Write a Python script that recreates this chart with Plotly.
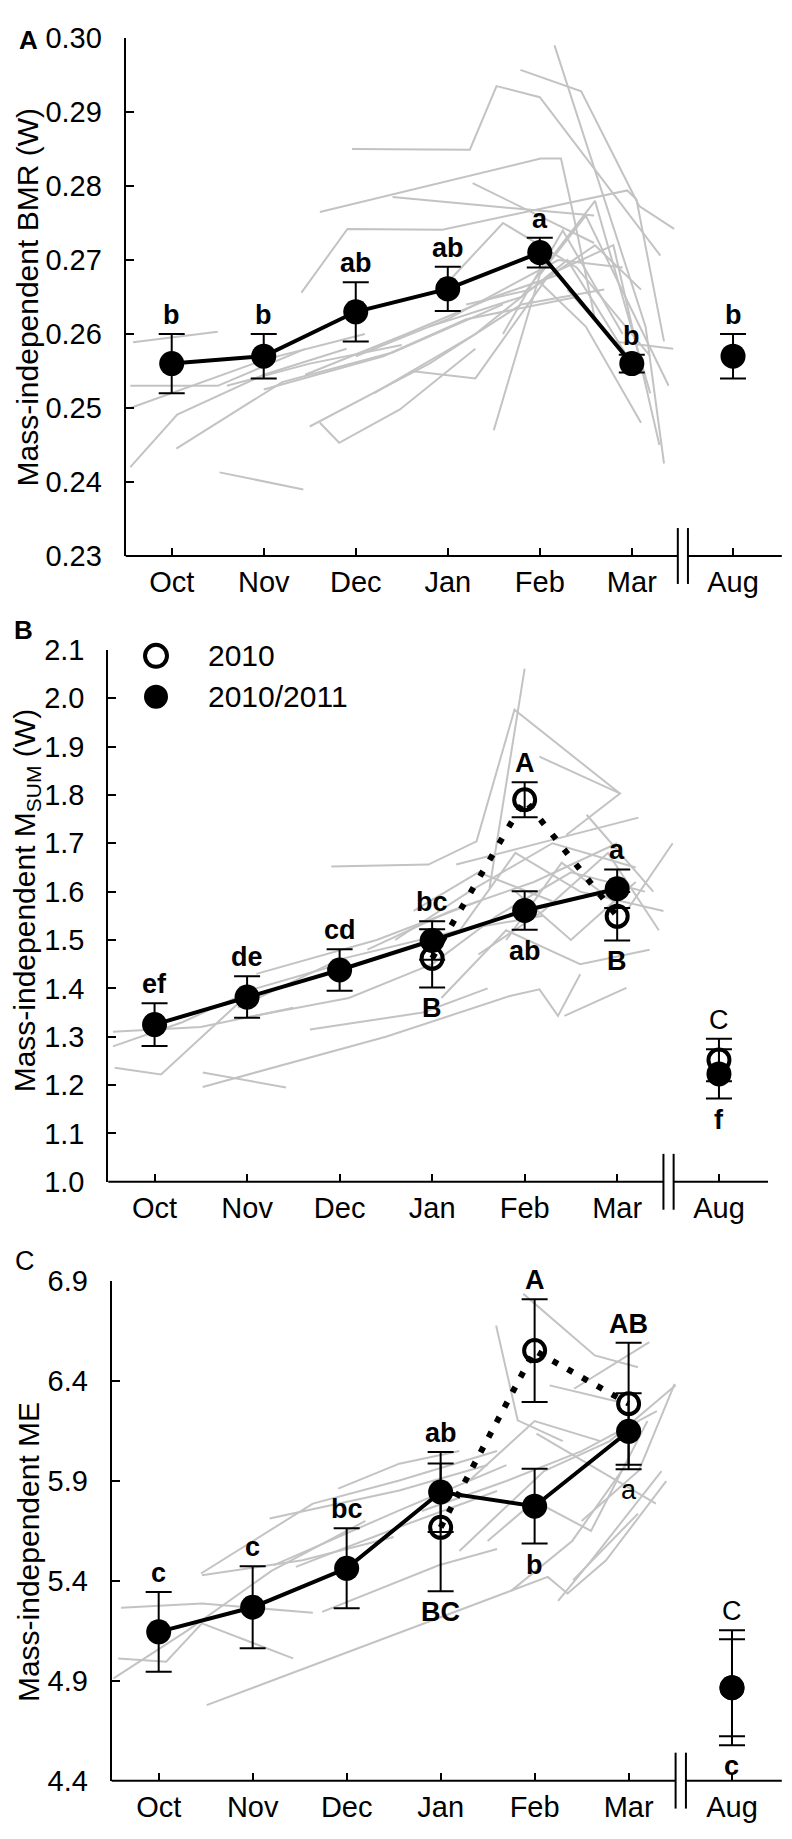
import plotly.graph_objects as go

W, H = 792, 1839
FONT = "Liberation Sans, Arial, sans-serif"

# ---------------- data ----------------
months = ['Oct', 'Nov', 'Dec', 'Jan', 'Feb', 'Mar', 'Aug']
# axis position of each month (Aug set apart after the axis break)
month_pos = [0, 1, 2, 3, 4, 5, 6.1]

# Panel A: mass-independent BMR (W), 2010/2011
bmr_mean = [0.2560, 0.2570, 0.2630, 0.2661, 0.2710, 0.2560, 0.2570]
bmr_err = [0.0040, 0.0030, 0.0040, 0.0030, 0.0020, 0.0012, 0.0030]
bmr_letters = ['b', 'b', 'ab', 'ab', 'a', 'b', 'b']
bmr_side = ['above'] * 7

# Panel B: mass-independent Msum (W)
msum_1011_mean = [1.325, 1.382, 1.438, 1.499, 1.561, 1.606, 1.223]
msum_1011_err = [0.044, 0.043, 0.043, 0.040, 0.040, 0.040, 0.051]
msum_1011_letters = ['ef', 'de', 'cd', 'bc', 'ab', 'a', 'f']
msum_1011_side = ['above', 'above', 'above', 'above', 'below', 'above', 'below']
msum_2010_months = ['Jan', 'Feb', 'Mar', 'Aug']
msum_2010_mean = [1.462, 1.790, 1.549, 1.252]
msum_2010_err = [0.060, 0.036, 0.050, 0.044]
msum_2010_letters = ['B', 'A', 'B', 'C']
msum_2010_side = ['below', 'above', 'below', 'above']

# Panel C: mass-independent ME
me_1011_mean = [5.145, 5.268, 5.463, 5.845, 5.774, 6.149, 4.865]
me_1011_err = [0.200, 0.205, 0.200, 0.200, 0.187, 0.190, 0.243]
me_1011_letters = ['c', 'c', 'bc', 'ab', 'b', 'a', 'c']
me_1011_side = ['above', 'above', 'above', 'above', 'below', 'below', 'below']
me_2010_months = ['Jan', 'Feb', 'Mar', 'Aug']
me_2010_mean = [5.668, 6.553, 6.287, 4.865]
me_2010_err = [0.320, 0.257, 0.305, 0.288]
me_2010_letters = ['BC', 'A', 'AB', 'C']
me_2010_side = ['below', 'above', 'above', 'above']

# individual birds (x = month index incl. fraction of month, y = value)
bmr_birds = [
    ([-0.42, 0.50], [0.2589, 0.2603]),
    ([-0.45, 0.50, 1.45], [0.2530, 0.2530, 0.2580]),
    ([-0.45, 0.06, 1.0, 1.9], [0.2420, 0.2491, 0.2545, 0.2580]),
    ([0.52, 1.43], [0.2413, 0.2390]),
    ([1.61, 1.82, 2.48, 3.3], [0.2480, 0.2453, 0.2498, 0.2580]),
    ([1.61, 2.48, 4.01, 4.23, 4.35, 4.6], [0.2765, 0.2791, 0.2837, 0.2837, 0.2770, 0.2620]),
    ([1.41, 1.91, 2.94, 4.95, 5.05, 5.35], [0.2656, 0.2742, 0.2741, 0.2794, 0.2782, 0.2590]),
    ([1.96, 3.24, 3.53, 4.0, 5.31], [0.2850, 0.2849, 0.2935, 0.2920, 0.2706]),
    ([3.79, 4.45, 5.08, 5.46], [0.2957, 0.2928, 0.2773, 0.2742]),
    ([4.16, 5.15, 5.35], [0.2990, 0.2610, 0.2425]),
    ([3.27, 4.59], [0.2804, 0.2723]),
    ([2.40, 4.59], [0.2785, 0.2760]),
    ([-0.45, 1.0, 2.1], [0.2500, 0.2565, 0.2600]),
    ([0.05, 1.2, 2.4, 3.6], [0.2445, 0.2535, 0.2575, 0.2640]),
    ([0.6, 1.5, 2.5], [0.2530, 0.2560, 0.2585]),
    ([1.45, 2.55, 3.5, 4.2], [0.2545, 0.2600, 0.2650, 0.2680]),
    ([1.0, 2.3, 3.2, 4.4], [0.2525, 0.2570, 0.2620, 0.2650]),
    ([1.5, 2.8, 3.8, 4.7], [0.2475, 0.2560, 0.2640, 0.2660]),
    ([2.2, 3.3, 4.3, 5.0], [0.2520, 0.2600, 0.2700, 0.2560]),
    ([2.6, 3.3, 4.1, 4.8, 5.3], [0.2550, 0.2540, 0.2680, 0.2720, 0.2450]),
    ([2.8, 3.8, 4.6, 5.2], [0.2610, 0.2650, 0.2780, 0.2520]),
    ([3.0, 3.6, 4.4, 5.2], [0.2670, 0.2750, 0.2690, 0.2570]),
    ([3.5, 4.0, 4.5, 5.4], [0.2470, 0.2680, 0.2760, 0.2530]),
    ([3.6, 4.25, 4.9], [0.2600, 0.2740, 0.2600]),
    ([4.0, 4.5, 5.1], [0.2670, 0.2610, 0.2480]),
    ([3.2, 3.9, 4.6, 5.1], [0.2640, 0.2660, 0.2720, 0.2660]),
    ([4.3, 4.8, 5.45], [0.2660, 0.2590, 0.2580]),
    ([2.0, 3.0, 4.2, 4.9], [0.2570, 0.2620, 0.2700, 0.2690]),
]

msum_birds = [
    ([-0.43, 0.07, 1.03], [1.236, 1.222, 1.391]),
    ([0.52, 1.42], [1.226, 1.195]),
    ([0.52, 2.5, 3.84, 4.16, 4.36, 4.60], [1.196, 1.300, 1.384, 1.398, 1.343, 1.429]),
    ([4.43, 5.10], [1.343, 1.401]),
    ([-0.45, 0.5, 1.5], [1.310, 1.320, 1.360]),
    ([-0.45, 0.3, 1.1, 2.0], [1.280, 1.330, 1.400, 1.450]),
    ([1.68, 2.9, 3.6], [1.315, 1.350, 1.400]),
    ([1.0, 2.1, 3.0], [1.340, 1.380, 1.450]),
    ([0.9, 2.0, 3.3, 4.2], [1.360, 1.460, 1.520, 1.550]),
    ([1.1, 2.4, 3.5], [1.430, 1.500, 1.580]),
    ([1.91, 2.96, 3.48, 3.89, 5.03], [1.652, 1.656, 1.704, 1.976, 1.803]),
    ([3.62, 4.0], [1.607, 2.061]),
    ([4.16, 5.03, 4.45], [1.879, 1.803, 1.717]),
    ([3.26, 5.23], [1.656, 1.753]),
    ([4.67, 5.39], [1.759, 1.600]),
    ([2.3, 3.2, 4.1, 5.0], [1.480, 1.560, 1.620, 1.700]),
    ([2.6, 3.4, 4.3, 5.2], [1.500, 1.600, 1.700, 1.650]),
    ([3.0, 3.7, 4.5, 5.3], [1.450, 1.550, 1.640, 1.600]),
    ([3.3, 3.9, 4.6, 5.5], [1.520, 1.680, 1.600, 1.560]),
    ([3.5, 4.2, 4.9, 5.45], [1.470, 1.560, 1.680, 1.520]),
    ([3.8, 4.4, 5.1, 5.6], [1.500, 1.660, 1.560, 1.700]),
    ([2.8, 3.5, 4.3], [1.560, 1.640, 1.580]),
    ([3.1, 3.8, 4.6, 5.35], [1.380, 1.520, 1.450, 1.480]),
    ([3.9, 4.5, 5.2], [1.600, 1.500, 1.620]),
]

me_birds = [
    ([-0.40, 0.46, 1.64], [5.265, 5.287, 5.240]),
    ([-0.43, 0.08, 0.46, 1.43], [5.012, 4.995, 5.187, 5.012]),
    ([-0.48, 0.3, 1.2, 2.2], [4.912, 5.150, 5.450, 5.700]),
    ([0.51, 4.14, 4.35, 4.76, 5.4], [4.778, 5.420, 5.337, 5.503, 5.900]),
    ([0.45, 1.64, 2.56, 3.6], [5.437, 5.787, 5.903, 6.050]),
    ([1.18, 2.56, 3.5], [5.712, 5.853, 5.980]),
    ([1.91, 2.56, 3.2], [5.862, 5.987, 6.050]),
    ([1.22, 2.56, 3.7], [5.478, 5.753, 5.980]),
    ([1.46, 2.56, 3.6], [5.470, 5.670, 5.850]),
    ([1.74, 2.98, 3.6], [5.245, 5.478, 5.560]),
    ([0.46, 1.53, 2.5], [5.428, 5.503, 5.620]),
    ([3.88, 4.64, 5.10], [6.837, 6.529, 6.470]),
    ([3.59, 3.82, 4.3], [6.679, 6.204, 6.100]),
    ([4.16, 4.90], [6.379, 6.296]),
    ([4.42, 5.22], [6.362, 6.595]),
    ([4.5, 5.11, 5.49], [5.700, 5.953, 6.387]),
    ([4.41, 5.10], [5.404, 5.737]),
    ([4.02, 5.29], [6.137, 5.787]),
    ([3.2, 4.1, 4.8, 5.5], [5.550, 5.950, 6.100, 6.380]),
    ([2.8, 3.7, 4.5, 5.3], [5.750, 5.900, 6.050, 6.250]),
    ([3.5, 4.0, 4.6, 5.2], [5.600, 5.800, 5.650, 6.200]),
    ([3.3, 4.0, 4.7], [5.900, 6.200, 6.100]),
    ([3.75, 4.4, 5.0], [5.350, 5.600, 6.000]),
    ([4.25, 4.6, 5.35], [5.300, 5.500, 5.950]),
]

# ---------------- layout geometry ----------------
# Positions below are given in target-picture pixels; the page shows the figure
# shifted by (8, 21) px and squeezed vertically by ~0.9845, so convert them.
SY, OX, OY = 0.9845, 8.0, 21.3


def fx(px):        # target x px -> figure x px
    return px - OX


def fy(py):        # target y px -> figure y px
    return py / SY - OY


def px_x(px):
    return fx(px) / W


def px_y(py):
    return 1 - fy(py) / H


X_RANGE = [-0.5, 6.63]
panels = {
    'A': dict(xpx=(125.7, 781.8), ypx=(35, 554), yr=(0.23, 0.30)),
    'B': dict(xpx=(108.3, 768.0), ypx=(648, 1181), yr=(1.0, 2.1)),
    'C': dict(xpx=(111.7, 781.8), ypx=(1280.7, 1781), yr=(4.4, 6.9)),
}


def xdata_to_px(p, xv):
    x0, x1 = panels[p]['xpx']
    return x0 + (xv - X_RANGE[0]) / (X_RANGE[1] - X_RANGE[0]) * (x1 - x0)


fig = go.Figure()
GREY = '#c3c3c3'


def bird_trace(birds, xa, ya):
    xs, ys = [], []
    for bx, by in birds:
        xs += list(bx) + [None]
        ys += list(by) + [None]
    return go.Scatter(x=xs, y=ys, mode='lines', line=dict(color=GREY, width=2),
                      xaxis=xa, yaxis=ya, showlegend=False, hoverinfo='skip')


def pos_of(mlist):
    return [month_pos[months.index(m)] for m in mlist]


def add_series(xa, ya, mean, err, filled, xs, line_n, dash=None, name=None):
    if line_n:
        line = dict(color='black', width=6, dash=dash) if dash else dict(color='black', width=4)
        fig.add_trace(go.Scatter(x=xs[:line_n], y=mean[:line_n], mode='lines', line=line,
                                 xaxis=xa, yaxis=ya, showlegend=False, hoverinfo='skip'))
    if filled:
        marker = dict(symbol='circle', size=25, color='black')
    else:
        marker = dict(symbol='circle-open', size=21, color='black',
                      line=dict(width=4, color='black'))
    fig.add_trace(go.Scatter(
        x=xs, y=mean, mode='markers', marker=marker, name=name,
        error_y=dict(type='data', array=err, visible=True, color='black',
                     thickness=2, width=13),
        xaxis=xa, yaxis=ya, showlegend=False))


# Panel A
fig.add_trace(bird_trace(bmr_birds, 'x', 'y'))
add_series('x', 'y', bmr_mean, bmr_err, True, month_pos, 6, name='2010/2011')

# Panel B
fig.add_trace(bird_trace(msum_birds, 'x2', 'y2'))
add_series('x2', 'y2', msum_2010_mean, msum_2010_err, False, pos_of(msum_2010_months), 3,
           dash='6px,13px', name='2010')
add_series('x2', 'y2', msum_1011_mean, msum_1011_err, True, month_pos, 6, name='2010/2011')

# Panel C
fig.add_trace(bird_trace(me_birds, 'x3', 'y3'))
add_series('x3', 'y3', me_2010_mean, me_2010_err, False, pos_of(me_2010_months), 3,
           dash='6px,11px', name='2010')
add_series('x3', 'y3', me_1011_mean, me_1011_err, True, month_pos, 6, name='2010/2011')

# ---------------- axes ----------------
TICKFONT = dict(family=FONT, size=29, color='black')


def xaxis_dict(p, anchor):
    x0, x1 = panels[p]['xpx']
    return dict(domain=[px_x(x0), px_x(x1)], range=X_RANGE, anchor=anchor,
                tickmode='array', tickvals=month_pos, ticktext=months,
                ticks='inside', ticklen=8, tickwidth=2, tickcolor='black',
                showline=False, showgrid=False, zeroline=False,
                tickfont=TICKFONT, ticklabelstandoff=6, fixedrange=True)


def yaxis_dict(p, anchor, tickvals, fmt):
    y0, y1 = panels[p]['ypx']
    return dict(domain=[px_y(y1), px_y(y0)], range=list(panels[p]['yr']), anchor=anchor,
                tickmode='array', tickvals=tickvals, ticktext=[fmt.format(v) for v in tickvals],
                ticks='inside', ticklen=8, tickwidth=2, tickcolor='black',
                showline=True, linewidth=2, linecolor='black',
                showgrid=False, zeroline=False, tickfont=TICKFONT,
                ticklabelstandoff=16, fixedrange=True)


a_ticks = [round(0.23 + 0.01 * i, 2) for i in range(8)]
b_ticks = [round(1.0 + 0.1 * i, 1) for i in range(12)]
c_ticks = [round(4.4 + 0.5 * i, 1) for i in range(6)]

fig.update_layout(
    width=W, height=H, margin=dict(l=0, r=0, t=0, b=0),
    paper_bgcolor='white', plot_bgcolor='white', showlegend=False,
    font=dict(family=FONT, color='black'),
    xaxis=xaxis_dict('A', 'y'), yaxis=yaxis_dict('A', 'x', a_ticks, '{:.2f}'),
    xaxis2=xaxis_dict('B', 'y2'), yaxis2=yaxis_dict('B', 'x2', b_ticks, '{:.1f}'),
    xaxis3=xaxis_dict('C', 'y3'), yaxis3=yaxis_dict('C', 'x3', c_ticks, '{:.1f}'),
)

# ---------------- broken x axis lines ----------------
shapes = []
for p in ['A', 'B', 'C']:
    ybot = panels[p]['ypx'][1]
    xl = xdata_to_px(p, X_RANGE[0])
    xr = xdata_to_px(p, X_RANGE[1])
    b1 = xdata_to_px(p, 5.5)
    b2 = xdata_to_px(p, 5.61)
    for a, b in [(xl, b1), (b2, xr)]:
        shapes.append(dict(type='line', xref='paper', yref='paper',
                           x0=px_x(a), x1=px_x(b), y0=px_y(ybot), y1=px_y(ybot),
                           line=dict(color='black', width=2)))
    for bx in (b1, b2):
        shapes.append(dict(type='line', xref='paper', yref='paper',
                           x0=px_x(bx), x1=px_x(bx), y0=px_y(ybot - 28), y1=px_y(ybot + 28),
                           line=dict(color='black', width=2)))

# legend symbols (panel B)
shapes.append(dict(type='circle', xref='paper', yref='paper',
                   x0=px_x(145), x1=px_x(167), y0=px_y(665), y1=px_y(643),
                   line=dict(color='black', width=4), fillcolor='rgba(0,0,0,0)'))
shapes.append(dict(type='circle', xref='paper', yref='paper',
                   x0=px_x(144), x1=px_x(168), y0=px_y(707), y1=px_y(683),
                   line=dict(color='black', width=0), fillcolor='black'))
fig.update_layout(shapes=shapes)

# ---------------- annotations ----------------
ann = []
LFONT = dict(family=FONT, size=27, color='black')


def add_letters(xa, ya, xs, letters, sides, others, bold_flags=None):
    for i, (xv, t, s) in enumerate(zip(xs, letters, sides)):
        tops, bots = [], []
        for (oxs, om, oe) in others:
            for j, ox in enumerate(oxs):
                if ox == xv:
                    tops.append(om[j] + oe[j])
                    bots.append(om[j] - oe[j])
        bold = True if bold_flags is None else bold_flags[i]
        txt = '<b>%s</b>' % t if bold else t
        if s == 'above':
            ann.append(dict(x=xv, y=max(tops), xref=xa, yref=ya, text=txt, showarrow=False,
                            xanchor='center', yanchor='bottom', yshift=2, font=LFONT))
        else:
            ann.append(dict(x=xv, y=min(bots), xref=xa, yref=ya, text=txt, showarrow=False,
                            xanchor='center', yanchor='top', yshift=-4, font=LFONT))


a_series = [(month_pos, bmr_mean, bmr_err)]
add_letters('x', 'y', month_pos, bmr_letters, bmr_side, a_series)

b_series = [(month_pos, msum_1011_mean, msum_1011_err),
            (pos_of(msum_2010_months), msum_2010_mean, msum_2010_err)]
add_letters('x2', 'y2', month_pos, msum_1011_letters, msum_1011_side, b_series)
add_letters('x2', 'y2', pos_of(msum_2010_months), msum_2010_letters, msum_2010_side,
            b_series, [True, True, True, False])

c_series = [(month_pos, me_1011_mean, me_1011_err),
            (pos_of(me_2010_months), me_2010_mean, me_2010_err)]
add_letters('x3', 'y3', month_pos, me_1011_letters, me_1011_side,
            c_series, [True, True, True, True, True, False, True])
add_letters('x3', 'y3', pos_of(me_2010_months), me_2010_letters, me_2010_side,
            c_series, [True, True, True, False])

# axis titles (kept fully inside the page)
TFONT = dict(family=FONT, size=30, color='black')
for txt, cx, cy in [('Mass-independent BMR (W)', 28, 295),
                    ('Mass-independent M<sub>SUM</sub> (W)', 26, 900),
                    ('Mass-independent ME', 28, 1552)]:
    ann.append(dict(x=px_x(cx), y=px_y(cy), xref='paper', yref='paper', text=txt,
                    textangle=-90, showarrow=False, xanchor='center', yanchor='middle',
                    borderpad=0, font=TFONT))

# panel letters
ann.append(dict(x=px_x(28), y=1, xref='paper', yref='paper', text='<b>A</b>',
                showarrow=False, xanchor='center', yanchor='top', borderpad=0,
                font=dict(family=FONT, size=26, color='black')))
for txt, cx, cy, bold in [('B', 23, 628, True), ('C', 25, 1260, False)]:
    ann.append(dict(x=px_x(cx), y=px_y(cy), xref='paper', yref='paper',
                    text='<b>%s</b>' % txt if bold else txt, showarrow=False,
                    xanchor='center', yanchor='middle', borderpad=0,
                    font=dict(family=FONT, size=26 if bold else 27, color='black')))

# legend text
for txt, cy in [('2010', 654), ('2010/2011', 695)]:
    ann.append(dict(x=px_x(206), y=px_y(cy), xref='paper', yref='paper', text=txt,
                    showarrow=False, xanchor='left', yanchor='middle',
                    font=dict(family=FONT, size=30, color='black')))

fig.update_layout(annotations=ann)
fig.write_html("out.html")
